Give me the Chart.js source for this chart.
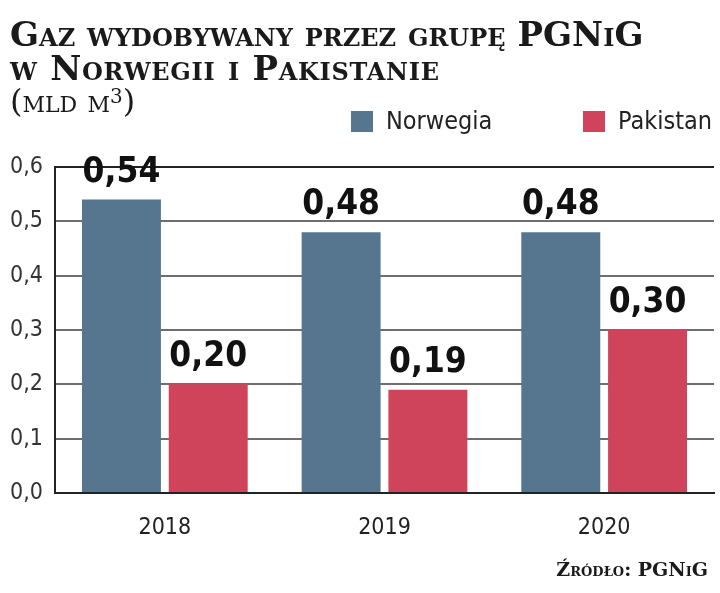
<!DOCTYPE html>
<html>
<head>
<meta charset="utf-8">
<script src="https://cdn.jsdelivr.net/npm/chart.js@4"></script>
<style>
  html, body { margin: 0; padding: 0; background: #fff; }
  #wrap { position: relative; width: 720px; height: 593px; overflow: hidden; }
  #chart { position: absolute; left: 0; top: 0; }
  .title { position: absolute; left: 10px; font-family: "DejaVu Serif", serif; font-weight: bold;
           font-variant: small-caps; color: #1a1a1a; white-space: nowrap; }
  #t1 { top: 14px; font-size: 34px; }
  #t2 { top: 48px; font-size: 34px; letter-spacing: 0.7px; }
  #unit { position: absolute; left: 10px; top: 82px; font-family: "DejaVu Serif", serif;
          font-variant: small-caps; font-size: 32px; color: #1a1a1a; }
  #unit sup { font-size: 20px; vertical-align: 9px; }
  #src { position: absolute; right: 12px; top: 558px; font-family: "DejaVu Serif", serif; font-weight: bold;
         font-variant: small-caps; font-size: 19px; color: #1a1a1a; }
</style>
</head>
<body>
<div id="wrap">
  <canvas id="chart" width="720" height="593"></canvas>
  <div class="title" id="t1">Gaz wydobywany przez grupę PGNiG</div>
  <div class="title" id="t2">w Norwegii i Pakistanie</div>
  <div id="unit">(mld m<sup>3</sup>)</div>
  <div id="src">Źródło: PGNiG</div>
</div>
<script>
const years = ['2018', '2019', '2020'];
const norwegia = [0.54, 0.48, 0.48];
const pakistan = [0.20, 0.19, 0.30];
const yTicks = [0, 0.1, 0.2, 0.3, 0.4, 0.5, 0.6];

const narrow = '"DejaVu Sans Condensed", "Liberation Sans Narrow", sans-serif';
const fmt = (v, d) => v.toFixed(d).replace('.', ',');

// value labels above each bar
const valueLabels = {
  id: 'valueLabels',
  afterDatasetsDraw(chart) {
    const ctx = chart.ctx;
    ctx.save();
    ctx.font = 'bold 35px ' + narrow;
    ctx.fillStyle = '#111';
    ctx.textAlign = 'center';
    ctx.textBaseline = 'alphabetic';
    chart.data.datasets.forEach((ds, i) => {
      chart.getDatasetMeta(i).data.forEach((bar, j) => {
        ctx.fillText(fmt(ds.data[j], 2), bar.x, bar.y - 18);
      });
    });
    ctx.restore();
  }
};

// legend in the top right corner
const topLegend = {
  id: 'topLegend',
  afterDraw(chart) {
    const ctx = chart.ctx;
    const starts = [351, 583];
    ctx.save();
    ctx.font = '25px ' + narrow;
    ctx.textBaseline = 'middle';
    chart.data.datasets.forEach((ds, i) => {
      ctx.fillStyle = ds.backgroundColor;
      ctx.fillRect(starts[i], 111, 22, 21);
      ctx.fillStyle = '#222';
      ctx.fillText(ds.label, starts[i] + 35, 122);
    });
    ctx.restore();
  }
};

new Chart(document.getElementById('chart'), {
  type: 'bar',
  data: {
    labels: years,
    datasets: [
      { label: 'Norwegia', data: norwegia, backgroundColor: '#56768f' },
      { label: 'Pakistan', data: pakistan, backgroundColor: '#d0445b' }
    ]
  },
  options: {
    responsive: false,
    animation: false,
    categoryPercentage: 0.79,
    barPercentage: 0.91,
    layout: { padding: { top: 167, right: 6, left: 0, bottom: 0 } },
    plugins: { legend: { display: false }, tooltip: { enabled: false } },
    scales: {
      x: {
        grid: { display: false },
        border: { display: true, color: '#222', width: 2 },
        ticks: { color: '#222', font: { family: narrow, size: 23 }, padding: 13 },
        afterFit(s) { s.height = 100; }
      },
      y: {
        min: 0,
        max: 0.6,
        afterBuildTicks(s) { s.ticks = yTicks.map(v => ({ value: v })); },
        grid: {
          drawTicks: false,
          lineWidth: 2,
          color: c => (c.tick && Math.abs(c.tick.value - 0.6) < 1e-6) ? '#222' : '#6e6e6e'
        },
        border: { display: true, color: '#222', width: 2 },
        ticks: {
          color: '#333',
          padding: 12,
          font: { family: narrow, size: 23 },
          callback: v => fmt(v, 1)
        },
        afterFit(s) { s.width = 55; }
      }
    }
  },
  plugins: [valueLabels, topLegend]
});
</script>
</body>
</html>
